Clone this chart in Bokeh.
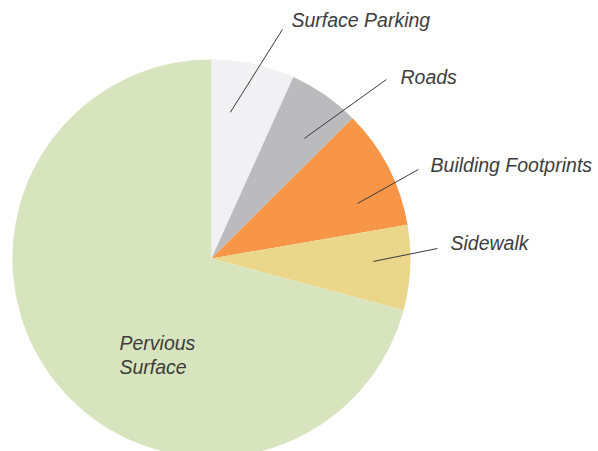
import math
from bokeh.plotting import figure
from bokeh.models import Range1d, ColumnDataSource
from bokeh.core.properties import value
from bokeh.embed import file_html
from bokeh.resources import INLINE

# data
categories = ["Surface Parking", "Roads", "Building Footprints", "Sidewalk", "Pervious Surface"]
shares = [6.75, 5.8, 9.75, 6.9, 70.8]
colors = ["#F1F1F3", "#BBBBBD", "#F79646", "#EAD78C", "#D8E4BE"]

# layout of labels (data coords, pie radius = 1)
label_text = ["Surface Parking", "Roads", "Building Footprints", "Sidewalk", "Pervious\nSurface"]
label_x = [0.402, 0.950, 1.101, 1.201, -0.462]
label_y = [1.196, 0.914, 0.472, 0.078, -0.485]
leader_x0 = [0.095, 0.467, 0.734, 0.814]
leader_y0 = [0.734, 0.603, 0.276, -0.015]
leader_x1 = [0.357, 0.879, 1.040, 1.136]
leader_y1 = [1.151, 0.899, 0.447, 0.050]

total = sum(shares)
starts, ends = [], []
cum = 0.0
for s in shares:
    a0 = math.pi / 2 - 2 * math.pi * cum / total
    cum += s
    a1 = math.pi / 2 - 2 * math.pi * cum / total
    starts.append(a1)
    ends.append(a0)

src = ColumnDataSource(dict(cat=categories, start=starts, end=ends, color=colors))

p = figure(width=598, height=451, output_backend="svg", toolbar_location=None,
           x_range=Range1d(-1.060, 1.945), y_range=Range1d(-0.970, 1.296),
           min_border=0)
p.axis.visible = False
p.grid.visible = False
p.outline_line_color = None
p.background_fill_color = "white"

p.wedge(x=0, y=0, radius=1, start_angle="start", end_angle="end", direction="anticlock",
        fill_color="color", line_color=None, source=src)

p.segment(x0=leader_x0, y0=leader_y0, x1=leader_x1, y1=leader_y1,
          line_color="#3a3a3a", line_width=1)

p.text(x=label_x, y=label_y, text=label_text, text_font=value("Liberation Sans"),
       text_font_style="italic", text_font_size="19.5px", text_color="#3c3c3c",
       text_baseline="alphabetic", text_align="left", text_line_height=1.1)

open("out.html", "w").write(file_html(p, INLINE))
